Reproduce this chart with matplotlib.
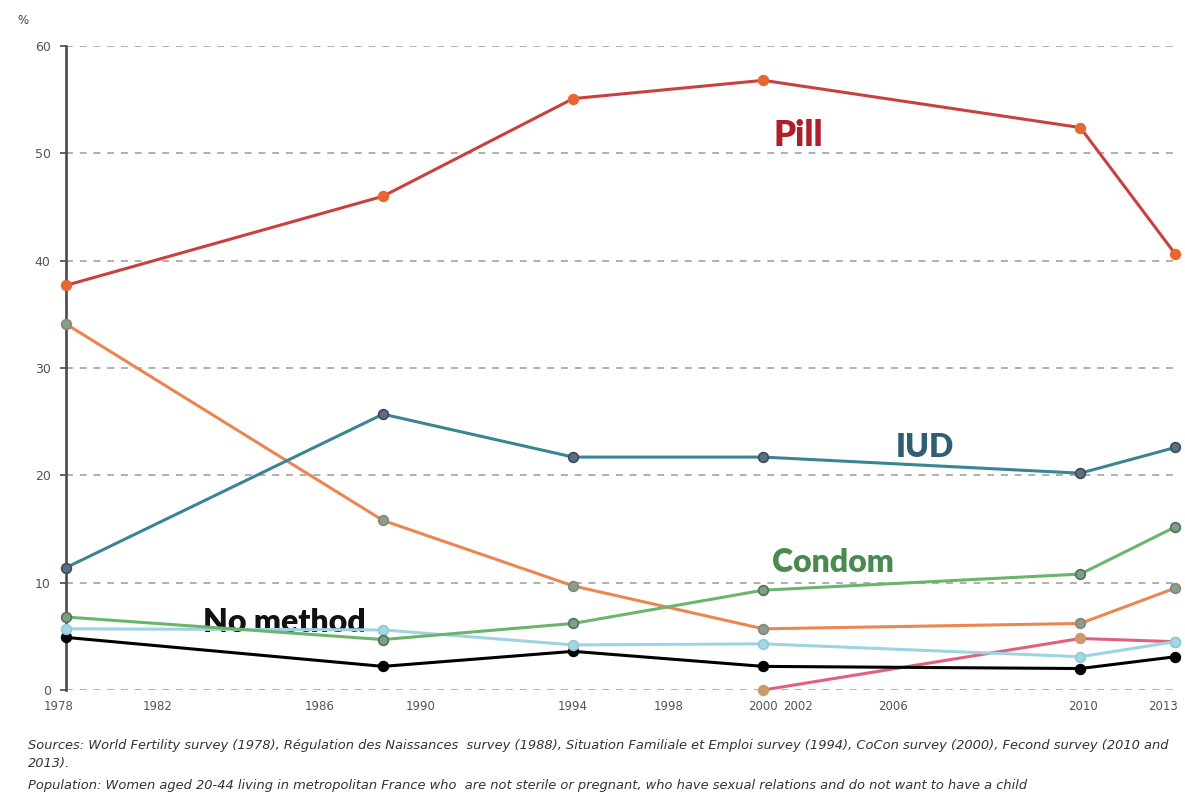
import numpy as np
import matplotlib
matplotlib.use("Agg")
import matplotlib.pyplot as plt
from matplotlib.transforms import ScaledTranslation

# Survey years and share of women (%) using each method
years = [1978, 1988, 1994, 2000, 2010, 2013]
pill = [37.7, 46.0, 55.1, 56.8, 52.4, 40.6]
iud = [11.4, 25.7, 21.7, 21.7, 20.2, 22.6]
other_orange = [34.1, 15.8, 9.7, 5.7, 6.2, 9.5]
condom = [6.8, 4.7, 6.2, 9.3, 10.8, 15.2]
other_lightblue = [5.7, 5.6, 4.2, 4.3, 3.1, 4.5]
no_method = [4.9, 2.2, 3.6, 2.2, 2.0, 3.1]
other_pink = [np.nan, np.nan, np.nan, 0.0, 4.8, 4.5]

y_ticks = [0, 10, 20, 30, 40, 50, 60]
x_tick_labels = ["1978", "1982", "1986", "1990", "1994", "1998",
                 "2000", "2002", "2006", "2010", "2013"]
x_tick_pos = [1978.0, 1980.9, 1986.0, 1989.2, 1994.0, 1997.0,
              2000.0, 2001.1, 2004.1, 2010.1, 2012.6]

fig = plt.figure(figsize=(11.85, 7.94), dpi=100)
ax = fig.add_axes([66 / 1185, 1 - 690 / 794, (1177 - 66) / 1185, (690 - 46) / 794])

# dashed horizontal grid
for yv in y_ticks:
    ax.axhline(yv, color="#9a9a9a", lw=1.1, ls=(0, (4.5, 4.5)), zorder=1)

series = [
    (other_pink, "#e2607c", "#c99a6c", "#c99a6c"),
    (no_method, "#000000", "#000000", "#000000"),
    (other_lightblue, "#9ed4e2", "#a6d6e4", "#8fc8d8"),
    (other_orange, "#ec8650", "#8f9a8a", "#7f8a7c"),
    (condom, "#6bb46b", "#7f9e86", "#557060"),
    (iud, "#3a8593", "#5c6f80", "#3f4a5c"),
    (pill, "#c8403f", "#e8662f", "#e8662f"),
]
for i, (vals, lc, mfc, mec) in enumerate(series):
    ax.plot(years, vals, color=lc, lw=2.2, marker="o", markersize=7,
            markerfacecolor=mfc, markeredgecolor=mec, markeredgewidth=1.2,
            clip_on=False, zorder=3 + i)

# spines and ticks
for s in ["top", "right", "bottom"]:
    ax.spines[s].set_visible(False)
ax.spines["left"].set_color("#4a4a4a")
ax.spines["left"].set_linewidth(1.9)
ax.spines["left"].set_zorder(2)

ax.set_yticks(y_ticks)
ax.set_yticklabels([str(v) for v in y_ticks])
ax.tick_params(axis="y", length=4, width=1.2, color="#4a4a4a", pad=7,
               labelsize=9, labelcolor="#555555")
ax.set_xticks(x_tick_pos)
ax.set_xticklabels(x_tick_labels)
ax.tick_params(axis="x", length=0, pad=7, labelsize=8.5, labelcolor="#555555")

ax.set_xlim(1978, 2013.05)
ax.set_ylim(0, 60)

# first year label sits a little left of the axis line
first = ax.get_xticklabels()[0]
first.set_transform(first.get_transform() + ScaledTranslation(-7 / 100, 0, fig.dpi_scale_trans))

# series labels
lab_font = dict(family=["Lato", "DejaVu Sans"], fontweight="heavy", ha="center", va="baseline")
ax.text(2001.1, 50.7, "Pill", color="#b01e2c", fontsize=25, **lab_font)
ax.text(2005.1, 21.7, "IUD", color="#2f5e73", fontsize=23, **lab_font)
ax.text(2002.2, 11.0, "Condom", color="#4b8a4e", fontsize=23, **lab_font)
ax.text(1984.9, 5.4, "No method", color="#111111", fontsize=23, **lab_font)

fig.text(17 / 1185, 1 - 20 / 794, "%", fontsize=8.5, color="#444444", va="center")

note_font = dict(style="italic", fontsize=9.4, color="#333333", va="center", ha="left")
fig.text(28 / 1185, 1 - 745 / 794,
         "Sources: World Fertility survey (1978), Régulation des Naissances  survey (1988), "
         "Situation Familiale et Emploi survey (1994), CoCon survey (2000), Fecond survey (2010 and",
         **note_font)
fig.text(28 / 1185, 1 - 764 / 794, "2013).", **note_font)
fig.text(28 / 1185, 1 - 785 / 794,
         "Population: Women aged 20-44 living in metropolitan France who  are not sterile or pregnant, "
         "who have sexual relations and do not want to have a child",
         **note_font)

fig.savefig("out.png", dpi=100)
